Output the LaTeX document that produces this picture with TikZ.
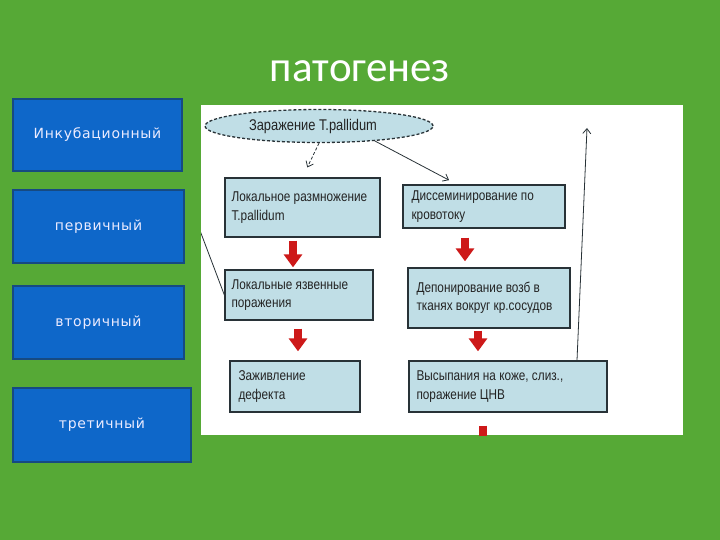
\documentclass[tikz,border=0pt]{standalone}
\usepackage{fontspec}
\setmainfont{Liberation Sans}
\newfontfamily\titlefont{Carlito}
\newfontfamily\sidefont[LetterSpace=5]{DejaVu Sans}
\newfontfamily\flowfont[FakeStretch=0.83]{Liberation Sans}
\usetikzlibrary{arrows.meta,shapes.geometric,calc}
\definecolor{slidegreen}{RGB}{86,169,54}
\definecolor{sideblue}{RGB}{14,103,201}
\definecolor{sideedge}{RGB}{22,74,130}
\definecolor{boxfill}{RGB}{192,222,230}
\definecolor{boxedge}{RGB}{40,50,55}
\definecolor{arrred}{RGB}{205,25,25}
\definecolor{flowink}{RGB}{35,35,35}
\begin{document}
\begin{tikzpicture}[x=1pt,y=-1pt,
  sidebox/.style={draw=sideedge, line width=1.5pt, fill=sideblue, text=white!92!blue,
    font=\sidefont\fontsize{14}{16}\selectfont, inner sep=0},
  flowbox/.style={draw=boxedge, line width=1.3pt, fill=boxfill, inner sep=0},
  flowtext/.style={inner sep=0, align=left, text=flowink,
    font=\flowfont\fontsize{14.2}{18.5}\selectfont, anchor=west},
  thinarrow/.style={draw=boxedge, line width=0.8pt, -{Straight Barb[length=5pt,width=8pt]}},
  redarrow/.style={draw=arrred, line width=8pt, -{Triangle[width=18pt,length=13pt]}}
]
\useasboundingbox (0,0) rectangle (720,540);
\fill[slidegreen] (0,0) rectangle (720,540);
\node[anchor=base, text=white, font=\titlefont\fontsize{43}{50}\selectfont] (title) at (360,82) {патогенез};

% left stage boxes
\node[sidebox, minimum width=169, minimum height=72] (l1) at (97.5,135) {Инкубационный};
\node[sidebox, minimum width=171, minimum height=73] (l2) at (98.5,226.5) {первичный};
\node[sidebox, minimum width=171, minimum height=73] (l3) at (98.5,322.5) {вторичный};
\node[sidebox, minimum width=178, minimum height=74] (l4) at (102,425) {третичный};

% embedded scheme
\fill[white] (201,105) rectangle (683,435);
\begin{scope}
\clip (201,105) rectangle (683,435);
\node[ellipse, draw=boxedge, densely dashed, line width=1.3pt, fill=boxfill,
  minimum width=228, minimum height=33, inner sep=0] (inf) at (319,126) {};
\node[inner sep=0, text=flowink, font=\flowfont\fontsize{15.5}{17}\selectfont] (inft) at (313,126) {Заражение T.pallidum};

\node[flowbox, minimum width=155, minimum height=59] (b1) at (302.5,207.5) {};
\node[flowbox, minimum width=162, minimum height=43] (b2) at (484,206.5) {};
\node[flowbox, minimum width=148, minimum height=50] (b3) at (299,295) {};
\node[flowbox, minimum width=162, minimum height=60] (b4) at (489,298) {};
\node[flowbox, minimum width=130, minimum height=51] (b5) at (295,386.5) {};
\node[flowbox, minimum width=198, minimum height=51] (b6) at (508,386.5) {};

\node[flowtext] (t1) at ([xshift=7]b1.west) {Локальное размножение\\T.pallidum};
\node[flowtext] (t2) at ([xshift=9]b2.west) {Диссеминирование по\\кровотоку};
\node[flowtext] (t3) at ([xshift=7]b3.west) {Локальные язвенные\\поражения};
\node[flowtext] (t4) at ([xshift=9]b4.west) {Депонирование возб в\\тканях вокруг кр.сосудов};
\node[flowtext] (t5) at ([xshift=9]b5.west) {Заживление\\дефекта};
\node[flowtext] (t6) at ([xshift=8]b6.west) {Высыпания на коже, слиз.,\\поражение ЦНВ};

% thin connectors
\draw[thinarrow, densely dashed, shorten >=11pt] (inf.south) -- (b1.north);
\draw[thinarrow, shorten >=9pt] (inf.-15) -- ([xshift=-27]b2.north);
\coordinate (topend) at (587,128);
\draw[thinarrow] ([xshift=69]b6.north) -- (topend);
\coordinate (lstart) at (196,220);
\draw[draw=boxedge, line width=0.8pt] (lstart) -- (b3.west);

% red arrows
\draw[redarrow, shorten <=3pt, shorten >=2pt] ([xshift=-9.5]b1.south) -- ([xshift=-9.5]b1.south |- b3.north);
\draw[redarrow, shorten <=9pt, shorten >=6pt] ([xshift=-19]b2.south) -- ([xshift=-19]b2.south |- b4.north);
\draw[redarrow, shorten <=8pt, shorten >=9pt] ([xshift=-1]b3.south) -- ([xshift=-1]b3.south |- b5.north);
\draw[redarrow, shorten <=2pt, shorten >=9pt] ([xshift=-11]b4.south) -- ([xshift=-11]b4.south |- b6.north);
\coordinate (a5end) at (483,470);
\draw[redarrow, shorten <=13pt] ([xshift=-25]b6.south) -- (a5end);
\end{scope}
\end{tikzpicture}
\end{document}
